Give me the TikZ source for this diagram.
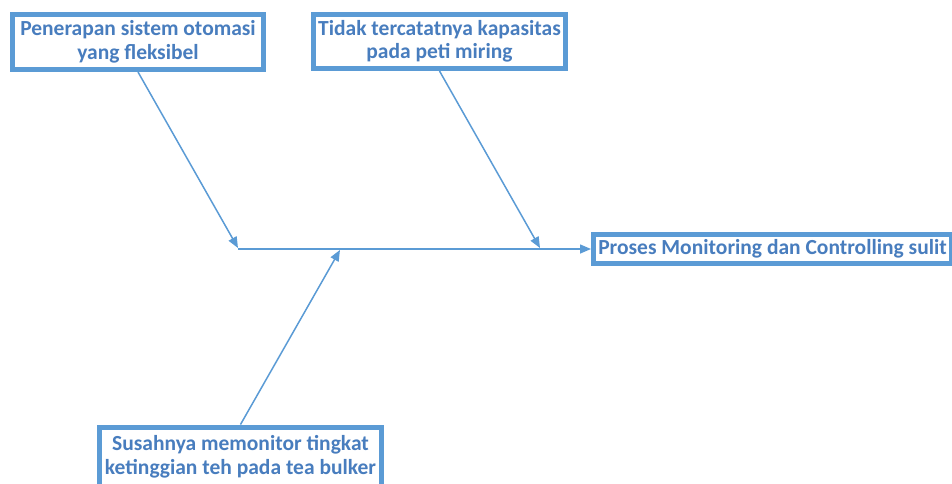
\documentclass[tikz,border=0pt]{standalone}
\usepackage{fontspec}
\setmainfont{Carlito}
\usetikzlibrary{arrows.meta}
\definecolor{boxblue}{RGB}{91,155,213}
\definecolor{textblue}{RGB}{72,125,190}
\begin{document}
\begin{tikzpicture}[x=1pt,y=1pt]
      \tikzset{cause/.style={draw=boxblue, line width=5pt, fill=white, inner sep=0pt, align=center,
                             text=textblue, font=\fontsize{21.5}{23.5}\selectfont\bfseries}}
      \tikzset{bone/.style={draw=boxblue, line width=1.5pt, -{Triangle[length=11pt,width=9pt]}}}
      \useasboundingbox (0,0) rectangle (952,483);
%% Boxes
      	\node[cause, minimum width=251pt, minimum height=55pt] (otomasi) at (138,441) {Penerapan sistem otomasi\\yang fleksibel};
      	\node[cause, minimum width=252pt, minimum height=54pt] (kapasitas) at (439.5,441.5) {Tidak tercatatnya kapasitas\\pada peti miring};
    	\node[cause, minimum width=358pt, minimum height=29pt] (effect) at (772.5,234) {Proses Monitoring dan Controlling sulit};
  	    \node[cause, minimum width=282pt, minimum height=60pt] (bulker) at (240.5,26) {Susahnya memonitor tingkat\\ketinggian teh pada tea bulker};
%% Points on the spine
      	\coordinate (tail) at (238,234);
      	\coordinate (hit1) at (238,235);
      	\coordinate (hit2) at (540,235);
      	\coordinate (hit3) at (340,233);
%Arrows
		\draw[bone] (tail) -- (effect.west);
		\draw[bone] (otomasi.south) -- (hit1);
		\draw[bone] (kapasitas.south) -- (hit2);
		\draw[bone] (bulker.north) -- (hit3);
	\end{tikzpicture}
\end{document}
